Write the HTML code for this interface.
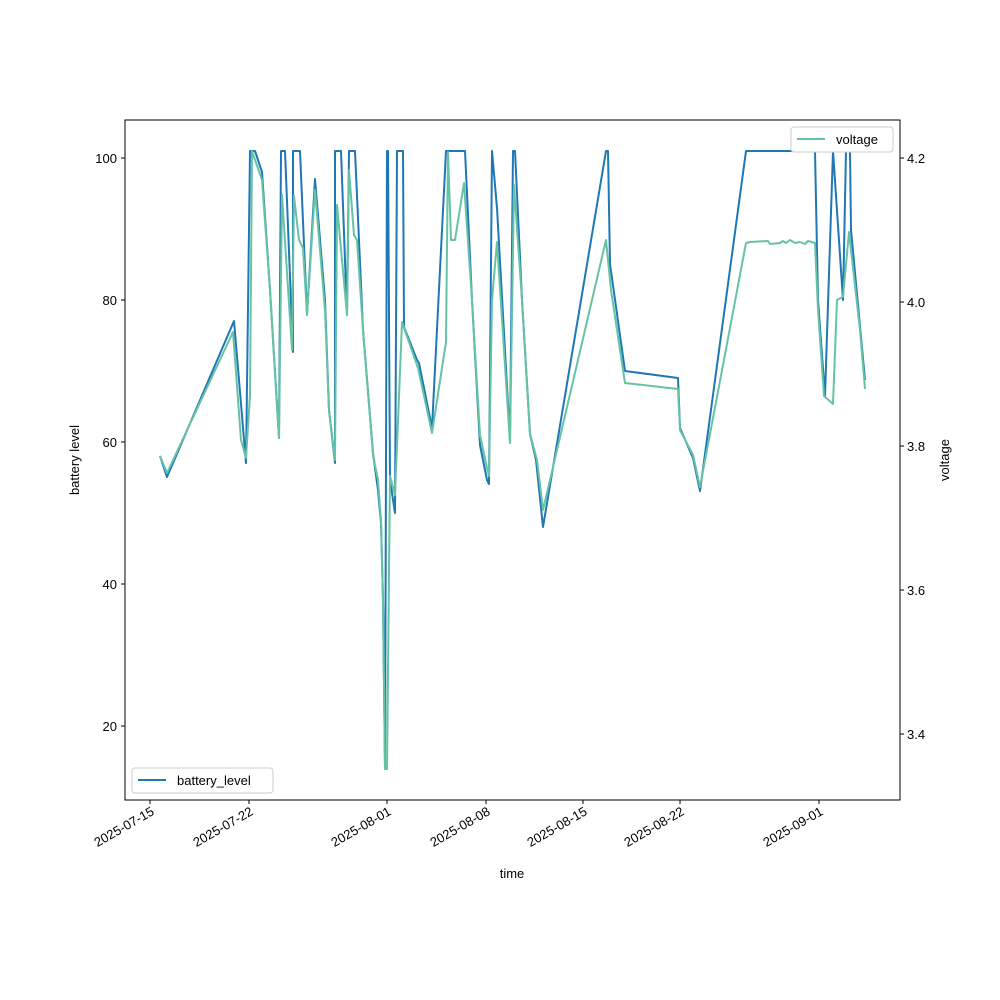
<!DOCTYPE html>
<html><head><style>body{margin:0;background:#fff}svg{display:block}text{font-family:"Liberation Sans",sans-serif;font-size:13px;fill:#000}</style></head>
<body>
<svg width="1000" height="1000" viewBox="0 0 1000 1000">
<rect x="125" y="120" width="775" height="680" fill="none" stroke="#000" stroke-width="1"/>
<g stroke="#000" stroke-width="1">
<line x1="125" x2="121" y1="158" y2="158"/><line x1="125" x2="121" y1="300" y2="300"/><line x1="125" x2="121" y1="442" y2="442"/><line x1="125" x2="121" y1="584" y2="584"/><line x1="125" x2="121" y1="726" y2="726"/>
<line x1="900" x2="904" y1="158" y2="158"/><line x1="900" x2="904" y1="302" y2="302"/><line x1="900" x2="904" y1="446" y2="446"/><line x1="900" x2="904" y1="590" y2="590"/><line x1="900" x2="904" y1="734" y2="734"/>
<line x1="150" x2="150" y1="800" y2="804"/><line x1="249" x2="249" y1="800" y2="804"/><line x1="387" x2="387" y1="800" y2="804"/><line x1="486" x2="486" y1="800" y2="804"/><line x1="583" x2="583" y1="800" y2="804"/><line x1="680" x2="680" y1="800" y2="804"/><line x1="819" x2="819" y1="800" y2="804"/>
</g>
<g text-anchor="end">
<text x="117" y="163">100</text><text x="117" y="305">80</text><text x="117" y="447">60</text><text x="117" y="589">40</text><text x="117" y="731">20</text>
</g>
<g>
<text x="907" y="163">4.2</text><text x="907" y="307">4.0</text><text x="907" y="451">3.8</text><text x="907" y="595">3.6</text><text x="907" y="739">3.4</text>
</g>
<g text-anchor="end">
<text transform="translate(155,814) rotate(-30)">2025-07-15</text>
<text transform="translate(254,814) rotate(-30)">2025-07-22</text>
<text transform="translate(392,814) rotate(-30)">2025-08-01</text>
<text transform="translate(491,814) rotate(-30)">2025-08-08</text>
<text transform="translate(588,814) rotate(-30)">2025-08-15</text>
<text transform="translate(685,814) rotate(-30)">2025-08-22</text>
<text transform="translate(824,814) rotate(-30)">2025-09-01</text>
</g>
<text x="512" y="878" text-anchor="middle">time</text>
<text transform="translate(79,460) rotate(-90)" text-anchor="middle">battery level</text>
<text transform="translate(949,460) rotate(-90)" text-anchor="middle">voltage</text>
<polyline fill="none" stroke="#1f77b4" stroke-width="2" stroke-linejoin="round" points="160,456 167,477 234,321 246,463 250,151 255,151 262,172 270,290 279,438 281,151 285,151 293,352 293,151 300,151 307,315 315,179 325,300 329,410 335,463 335,151 341,151 347,315 349,151 355,151 363,330 373,453 378,490 381,523 383,600 385,769 387,151 388,151 390,480 395,513 397,151 403,151 404,327 417,360 419,363 432,428 446,151 465,151 472,300 480,445 487,480 489,484 492,151 497,208 510,440 513,151 515,151 522,300 530,434 536,460 543,527 606,151 608,151 610,264 625,371 678,378 680,428 693,458 700,491 746,151 815,151 818,300 825,396 833,151 843,300 846,151 850,151 851,230 865,380"/>
<polyline fill="none" stroke="#66c2a5" stroke-width="2" stroke-linejoin="round" points="160,456 167,473 233,332 241,440 246,458 250,395 252,151 262,180 270,290 279,438 282,195 292,350 294,196 299,240 303,248 307,315 315,190 325,310 329,410 335,460 337,205 347,315 349,170 354,235 357,240 363,330 373,455 378,480 381,520 383,600 385,769 387,769 390,476 395,495 402,322 418,368 432,433 446,342 448,152 451,240 455,240 464,183 472,300 480,435 487,468 489,476 492,300 497,242 510,443 514,185 522,300 530,434 537,460 543,510 606,240 611,290 625,383 678,389 680,430 693,455 700,487 746,243 750,242 768,241 770,244 780,243 783,241 786,243 790,240 795,243 800,242 805,244 808,241 815,243 818,310 824,396 833,404 837,300 843,297 849,232 860,330 865,389"/>
<rect x="132" y="768" width="141" height="25" fill="#fff" stroke="#ccc" rx="3"/>
<line x1="138" x2="166" y1="780" y2="780" stroke="#1f77b4" stroke-width="2"/>
<text x="177" y="785">battery_level</text>
<rect x="791" y="127" width="102" height="25" fill="#fff" stroke="#ccc" rx="3"/>
<line x1="797" x2="825" y1="139" y2="139" stroke="#66c2a5" stroke-width="2"/>
<text x="836" y="144">voltage</text>
</svg>
</body></html>
